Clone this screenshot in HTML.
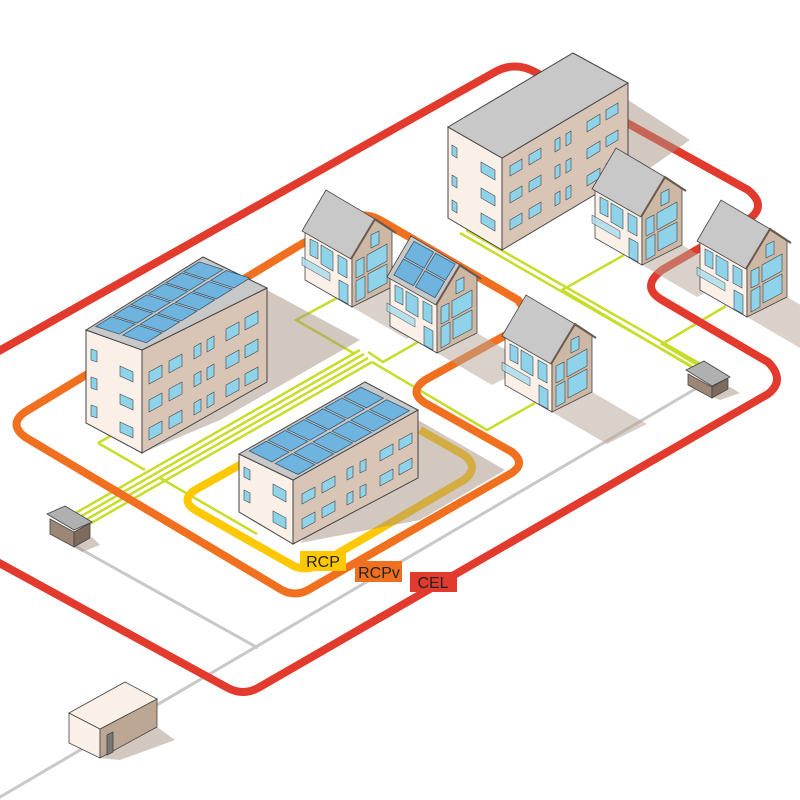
<!DOCTYPE html>
<html><head><meta charset="utf-8"><style>
html,body{margin:0;padding:0;background:#fff;}
svg{display:block;}
text{font-family:"Liberation Sans",sans-serif;}
</style></head><body>
<svg width="800" height="800" viewBox="0 0 800 800" xmlns="http://www.w3.org/2000/svg">
<defs>
<g id="house">
 <polygon points="0,0 40,-20 95,12 55,32" fill="#b5a595" opacity="0.5"/>
 <polygon points="-47,-77 0,-50 0,0 -47,-27" fill="#fbf0e8" stroke="#444" stroke-width="0.8"/>
 <polygon points="0,-50 23,-87 40,-76 40,-20 0,0" fill="#cdb8a6" stroke="#444" stroke-width="0.8"/>
 <polygon points="-42,-68 -34,-64 -34,-48 -42,-52" fill="#8fd3ea" stroke="#444" stroke-width="0.6"/>
 <polygon points="-31,-62 -19,-55 -19,-36 -31,-43" fill="#8fd3ea" stroke="#444" stroke-width="0.6"/>
 <polygon points="-14,-52 -5,-47 -5,-29 -14,-34" fill="#8fd3ea" stroke="#444" stroke-width="0.6"/>
 <polygon points="-13,-27 -4,-22 -4,-3 -13,-8" fill="#8fd3ea" stroke="#444" stroke-width="0.6"/>
 <polygon points="-50,-50 -22,-34 -22,-26 -50,-42" fill="#a8dcee" opacity="0.8" stroke="#444" stroke-width="0.6"/>
 <polygon points="4,-46 12,-50 12,-33 4,-29" fill="#8fd3ea" stroke="#444" stroke-width="0.6"/>
 <polygon points="15,-52 35,-63 35,-46 15,-35" fill="#8fd3ea" stroke="#444" stroke-width="0.6"/>
 <polygon points="4,-26 13,-31 13,-10 4,-5" fill="#8fd3ea" stroke="#444" stroke-width="0.6"/>
 <polygon points="16,-33 35,-43 35,-24 16,-14" fill="#8fd3ea" stroke="#444" stroke-width="0.6"/>
 <polygon points="19,-72 27,-76 27,-63 19,-59" fill="#8fd3ea" stroke="#444" stroke-width="0.6"/>
 <polygon points="-50,-76 -26,-117 23,-88 -1,-48" fill="#c8c8c8" stroke="#444" stroke-width="0.8"/>
 <polyline points="-1,-48 23,-88 44,-74" fill="none" stroke="#6b5a4d" stroke-width="2"/>
</g>
</defs>

<path d="M-5,800 L702,385" stroke="#c8c8c8" stroke-width="3" fill="none"/>
<path d="M75,546 L258,648" stroke="#c8c8c8" stroke-width="3" fill="none"/>

<g stroke="#c8dc2a" stroke-width="2.5" fill="none">
 <path d="M74,514 L360,350"/>
 <path d="M78,518 L364,354"/>
 <path d="M82,522 L368,358"/>
 <path d="M86,526 L372,362"/>
 <path d="M355,354 L296,320 L337,298"/>
 <path d="M368,352 L383,362 L418,342"/>
 <path d="M372,362 L487,430 L535,403"/>
 <path d="M98,443 L118,432"/>
 <path d="M98,443 L145,470"/>
 <path d="M160,478 L257,534"/>
 <path d="M460,233 L698,370"/>
 <path d="M466,230 L704,366"/>
 <path d="M624,255 L562,290 L700,372"/>
 <path d="M726,306 L662,344 L706,370"/>
</g>

<path d="M245,462 L195,490 Q180,500 195,510 L292,565 Q305,572 318,565 L464,480 Q480,467 464,455 L420,430" stroke="#ffc800" stroke-width="8" fill="none"/>
<path d="M300,245 L350,218 Q365,212 380,220 L518,300 Q532,318 515,330 L425,380 Q408,392 425,403 L512,452 Q527,464 510,474 L308,590 Q295,597 282,590 L25,437 Q8,424 25,412 L300,245" stroke="#f07020" stroke-width="8" fill="none"/>
<path d="M-10,356 L495,72 Q515,61 535,72 L748,190 Q768,206 748,220 L662,270 Q640,287 662,300 L768,362 Q786,380 768,394 L258,688 Q243,696 228,688 L-10,558" stroke="#e23b2e" stroke-width="8" fill="none"/>

<g fill="#a89282" opacity="0.5">
 <polygon points="267,290 360,340 220,420 142,453"/>
 <polygon points="628,100 690,140 640,175 560,210 502,250"/>
 <polygon points="418,420 505,470 420,520 300,543"/>
 <polygon points="100,758 157,727 175,740 120,760"/>
 <polygon points="74,547 92,537 100,545 82,552"/>
 <polygon points="712,397 730,387 740,393 720,400"/>
</g>

<polygon points="448,127 502,158 502,250 448,218" fill="#fbf0e8" stroke="#444"/>
<polygon points="502,158 628,83 628,175 502,250" fill="#d9c5b6" stroke="#444"/>
<polygon points="448,127 573,53 628,83 502,158" fill="#c8c8c8" stroke="#444"/>
<g fill="#8fd3ea" stroke="#444" stroke-width="0.6">
 <polygon points="452,145 457,148 457,158 452,155"/><polygon points="452,175 457,178 457,188 452,185"/><polygon points="452,200 457,203 457,213 452,210"/>
 <polygon points="481,162 495,170 495,180 481,172"/><polygon points="481,188 495,196 495,206 481,198"/><polygon points="481,213 495,221 495,231 481,223"/>
 <g id="b3r">
 <polygon points="510,166 522,159 522,169 510,176"/><polygon points="529,155 541,148 541,158 529,165"/><polygon points="555,140 560,137 560,149 555,152"/><polygon points="566,134 571,131 571,143 566,146"/><polygon points="587,122 600,114 600,124 587,132"/><polygon points="606,110 618,103 618,113 606,120"/>
 </g>
 <use href="#b3r" y="27"/><use href="#b3r" y="54"/>
</g>

<polygon points="86,330 142,350 142,453 86,423" fill="#fbf0e8" stroke="#444"/>
<polygon points="142,350 267,288 267,382 142,453" fill="#d9c5b6" stroke="#444"/>
<polygon points="86,330 203,257 267,288 142,350" fill="#c8c8c8" stroke="#444"/>
<g fill="#8fd3ea" stroke="#444" stroke-width="0.6">
 <polygon points="91,349 97,351 97,362 91,360"/><polygon points="91,377 97,379 97,390 91,388"/><polygon points="91,405 97,407 97,418 91,416"/>
 <polygon points="120,366 133,372 133,382 120,376"/><polygon points="120,394 133,400 133,410 120,404"/><polygon points="120,422 133,428 133,438 120,432"/>
 <g id="b1r">
 <polygon points="149,372 162,365 162,377 149,384"/><polygon points="169,361 182,354 182,366 169,373"/><polygon points="194,347 201,343 201,355 194,359"/><polygon points="207,340 214,336 214,348 207,352"/><polygon points="226,329 239,322 239,334 226,341"/><polygon points="245,318 258,311 258,323 245,330"/>
 </g>
 <use href="#b1r" y="28"/><use href="#b1r" y="56"/>
</g>
<g transform="matrix(117,-73,56,18,86,330)">
 <g fill="#6fb3df" stroke="#3a5a70" stroke-width="0.8">
  <rect x="0.06" y="0.05" width="0.135" height="0.42" vector-effect="non-scaling-stroke"/><rect x="0.21" y="0.05" width="0.135" height="0.42" vector-effect="non-scaling-stroke"/><rect x="0.36" y="0.05" width="0.135" height="0.42" vector-effect="non-scaling-stroke"/><rect x="0.51" y="0.05" width="0.135" height="0.42" vector-effect="non-scaling-stroke"/><rect x="0.66" y="0.05" width="0.135" height="0.42" vector-effect="non-scaling-stroke"/><rect x="0.81" y="0.05" width="0.135" height="0.42" vector-effect="non-scaling-stroke"/>
  <rect x="0.06" y="0.53" width="0.135" height="0.42" vector-effect="non-scaling-stroke"/><rect x="0.21" y="0.53" width="0.135" height="0.42" vector-effect="non-scaling-stroke"/><rect x="0.36" y="0.53" width="0.135" height="0.42" vector-effect="non-scaling-stroke"/><rect x="0.51" y="0.53" width="0.135" height="0.42" vector-effect="non-scaling-stroke"/><rect x="0.66" y="0.53" width="0.135" height="0.42" vector-effect="non-scaling-stroke"/><rect x="0.81" y="0.53" width="0.135" height="0.42" vector-effect="non-scaling-stroke"/>
 </g>
</g>

<use href="#house" x="352" y="307"/>
<use href="#house" x="437" y="353"/>
<g transform="matrix(24,-40,49,27,388,276)">
 <g fill="#6fb3df" stroke="#3a5a70" stroke-width="0.8">
  <rect x="0.08" y="0.08" width="0.4" height="0.4" vector-effect="non-scaling-stroke"/><rect x="0.52" y="0.08" width="0.4" height="0.4" vector-effect="non-scaling-stroke"/>
  <rect x="0.08" y="0.52" width="0.4" height="0.4" vector-effect="non-scaling-stroke"/><rect x="0.52" y="0.52" width="0.4" height="0.4" vector-effect="non-scaling-stroke"/>
 </g>
</g>
<use href="#house" x="552" y="412"/>
<use href="#house" x="642" y="265"/>
<use href="#house" x="747" y="317"/>

<polygon points="239,454 293,480 293,544 239,512" fill="#fbf0e8" stroke="#444"/>
<polygon points="293,480 418,410 418,478 293,544" fill="#d9c5b6" stroke="#444"/>
<polygon points="239,454 365,382 418,410 293,480" fill="#c8c8c8" stroke="#444"/>
<g fill="#8fd3ea" stroke="#444" stroke-width="0.6">
 <polygon points="244,467 250,470 250,480 244,477"/><polygon points="244,490 250,493 250,503 244,500"/>
 <polygon points="273,484 286,491 286,502 273,495"/><polygon points="273,511 286,518 286,529 273,522"/>
 <g id="b2r">
 <polygon points="302,494 315,487 315,497 302,504"/><polygon points="322,483 335,476 335,486 322,493"/><polygon points="347,469 353,466 353,477 347,480"/><polygon points="360,462 366,459 366,470 360,473"/><polygon points="380,451 393,444 393,454 380,461"/><polygon points="399,440 412,433 412,443 399,450"/>
 </g>
 <use href="#b2r" y="25"/>
</g>
<g transform="matrix(126,-72,54,26,239,454)">
 <g fill="#6fb3df" stroke="#3a5a70" stroke-width="0.8">
  <rect x="0.06" y="0.05" width="0.135" height="0.42" vector-effect="non-scaling-stroke"/><rect x="0.21" y="0.05" width="0.135" height="0.42" vector-effect="non-scaling-stroke"/><rect x="0.36" y="0.05" width="0.135" height="0.42" vector-effect="non-scaling-stroke"/><rect x="0.51" y="0.05" width="0.135" height="0.42" vector-effect="non-scaling-stroke"/><rect x="0.66" y="0.05" width="0.135" height="0.42" vector-effect="non-scaling-stroke"/><rect x="0.81" y="0.05" width="0.135" height="0.42" vector-effect="non-scaling-stroke"/>
  <rect x="0.06" y="0.53" width="0.135" height="0.42" vector-effect="non-scaling-stroke"/><rect x="0.21" y="0.53" width="0.135" height="0.42" vector-effect="non-scaling-stroke"/><rect x="0.36" y="0.53" width="0.135" height="0.42" vector-effect="non-scaling-stroke"/><rect x="0.51" y="0.53" width="0.135" height="0.42" vector-effect="non-scaling-stroke"/><rect x="0.66" y="0.53" width="0.135" height="0.42" vector-effect="non-scaling-stroke"/><rect x="0.81" y="0.53" width="0.135" height="0.42" vector-effect="non-scaling-stroke"/>
 </g>
</g>

<g stroke="#444" stroke-width="0.8">
 <polygon points="50,519 74,532 74,547 50,534" fill="#9c8676"/>
 <polygon points="74,532 90,523 90,538 74,547" fill="#7e6b5e"/>
 <polygon points="47,514 65,506 92,522 74,530" fill="#b0b0b0"/>
 <polygon points="688,374 712,387 712,398 688,385" fill="#9c8676"/>
 <polygon points="712,387 728,378 728,389 712,398" fill="#7e6b5e"/>
 <polygon points="686,370 704,361 730,377 712,386" fill="#b0b0b0"/>
</g>
<g stroke="#444" stroke-width="0.8">
 <polygon points="69,713 100,729 100,758 69,743" fill="#fbf0e8"/>
 <polygon points="100,729 157,699 157,727 100,758" fill="#bba794"/>
 <polygon points="69,713 125,682 157,699 100,729" fill="#fbf0e8"/>
 <polygon points="107,735 113,732 113,752 107,755" fill="#777"/>
</g>

<rect x="300" y="551" width="46" height="20" fill="#ffc800"/>
<text x="323" y="567" font-size="16" text-anchor="middle" fill="#222">RCP</text>
<rect x="355" y="561" width="47" height="21" fill="#f07020"/>
<text x="379" y="578" font-size="16" text-anchor="middle" fill="#222">RCPv</text>
<rect x="410" y="572" width="47" height="20" fill="#e23b2e"/>
<text x="433" y="588" font-size="16" text-anchor="middle" fill="#222">CEL</text>
</svg>
</body></html>
